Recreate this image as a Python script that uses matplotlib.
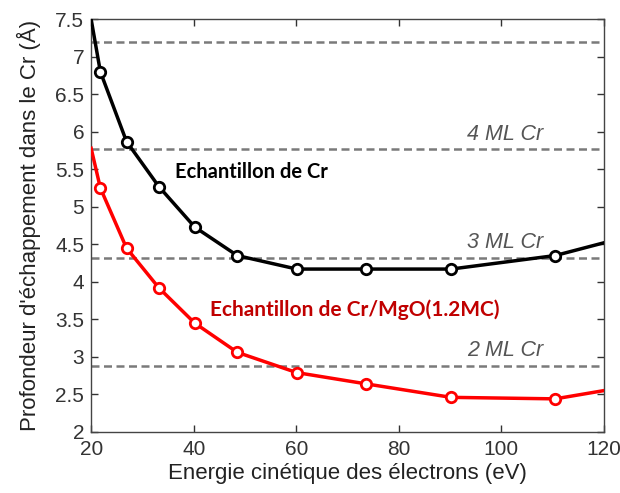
import matplotlib
matplotlib.use('Agg')
import matplotlib.pyplot as plt

# points mesurés (marqueurs)
energie = [21.8, 26.9, 33.2, 40.2, 48.5, 60.1, 73.6, 90.2, 110.5]
cr = [6.80, 5.87, 5.27, 4.73, 4.35, 4.17, 4.17, 4.17, 4.35]
cr_mgo = [5.25, 4.45, 3.92, 3.45, 3.06, 2.79, 2.64, 2.46, 2.44]

# extrémités de courbe (bords de l'axe)
bord_x = [20, 120]
cr_bord = [7.50, 4.52]
cr_mgo_bord = [5.78, 2.55]

# épaisseurs de monocouches (Å)
ml_niveaux = [2.88, 4.32, 5.77, 7.20]
ml_labels = ['2 ML Cr', '3 ML Cr', '4 ML Cr', '']

plt.rcParams['font.family'] = ['Liberation Sans', 'DejaVu Sans']

fig = plt.figure(figsize=(6.2, 4.93), dpi=100)
ax = fig.add_axes([0.147, 0.124, 0.827, 0.837])

for y, lab in zip(ml_niveaux, ml_labels):
    ax.axhline(y, color='#7a7a7a', lw=1.8, ls=(0, (3.2, 1.8)), zorder=1)
    if lab:
        ax.text(93.3, y + 0.06, lab, color='#555555', fontsize=15.5, style='italic',
                va='bottom', ha='left')

xs = [bord_x[0]] + energie + [bord_x[1]]
for ys, bords, c in [(cr, cr_bord, 'black'), (cr_mgo, cr_mgo_bord, '#ff0000')]:
    yy = [bords[0]] + ys + [bords[1]]
    ax.plot(xs, yy, color=c, lw=2.5, zorder=3)
    ax.plot(energie, ys, 'o', ms=7.5, mfc='white', mec=c, mew=2, zorder=4)

ax.text(36.3, 5.47, 'Echantillon de Cr', fontsize=14.5, fontweight='bold',
        family=['Lato', 'DejaVu Sans'], color='black', va='center')
ax.text(43.2, 3.63, 'Echantillon de Cr/MgO(1.2MC)', fontsize=15, fontweight='bold',
        family=['Lato', 'DejaVu Sans'], color='#c00000', va='center')

ax.set_xlim(20, 120)
ax.set_ylim(2, 7.5)
ax.set_xticks([20, 40, 60, 80, 100, 120])
ax.set_yticks([2, 2.5, 3, 3.5, 4, 4.5, 5, 5.5, 6, 6.5, 7, 7.5])
ax.set_yticklabels(['2', '2.5', '3', '3.5', '4', '4.5', '5', '5.5', '6', '6.5', '7', '7.5'])
ax.tick_params(direction='in', top=True, right=True, labelsize=15, colors='#333333',
               length=5, width=1)
ax.tick_params(axis='x', pad=6)
ax.tick_params(axis='y', pad=5)
for s in ax.spines.values():
    s.set_color('#444444')
    s.set_linewidth(1)
ax.set_xlabel('Energie cinétique des électrons (eV)', fontsize=16, color='#222222', labelpad=3)
ax.set_ylabel("Profondeur d'échappement dans le Cr (Å)", fontsize=16, color='#222222', labelpad=10)

fig.savefig('out.png', dpi=100)
